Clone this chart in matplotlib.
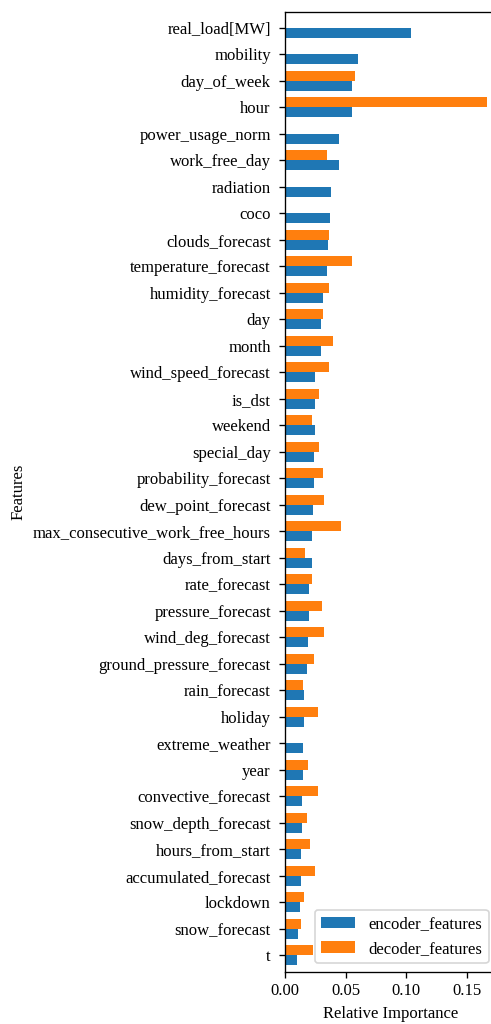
import numpy as np
import matplotlib
matplotlib.use('Agg')
import matplotlib.pyplot as plt

plt.rcParams['font.family'] = ['Liberation Serif', 'DejaVu Serif']
plt.rcParams['font.size'] = 10

features = ['real_load[MW]', 'mobility', 'day_of_week', 'hour', 'power_usage_norm',
            'work_free_day', 'radiation', 'coco', 'clouds_forecast',
            'temperature_forecast', 'humidity_forecast', 'day', 'month',
            'wind_speed_forecast', 'is_dst', 'weekend', 'special_day',
            'probability_forecast', 'dew_point_forecast',
            'max_consecutive_work_free_hours', 'days_from_start', 'rate_forecast',
            'pressure_forecast', 'wind_deg_forecast', 'ground_pressure_forecast',
            'rain_forecast', 'holiday', 'extreme_weather', 'year',
            'convective_forecast', 'snow_depth_forecast', 'hours_from_start',
            'accumulated_forecast', 'lockdown', 'snow_forecast', 't']

encoder = [0.104, 0.0603, 0.0554, 0.0554, 0.0446,
           0.0446, 0.038, 0.0372, 0.0355,
           0.0347, 0.0314, 0.0298, 0.0298,
           0.0248, 0.0248, 0.0248, 0.024,
           0.024, 0.0231,
           0.0223, 0.0223, 0.0198,
           0.0198, 0.019, 0.0182,
           0.0157, 0.0157, 0.0149, 0.0149,
           0.014, 0.014, 0.0132,
           0.0132, 0.0124, 0.0107, 0.0099]

decoder = [0.0, 0.0, 0.0579, 0.1663, 0.0,
           0.0347, 0.0, 0.0, 0.0364,
           0.0554, 0.0364, 0.0314, 0.0397,
           0.0364, 0.0281, 0.0223, 0.0281,
           0.0314, 0.0322,
           0.0463, 0.0165, 0.0223,
           0.0306, 0.0322, 0.024,
           0.0149, 0.0273, 0.0, 0.019,
           0.0273, 0.0182, 0.0207,
           0.0248, 0.0157, 0.0132, 0.0231]

n = len(features)
pos = np.arange(n)[::-1]
h = 0.38

# 492x1024 px at 120 dpi
fig = plt.figure(figsize=(4.1, 1024 / 120), dpi=120)
ax = fig.add_axes([0.5793, 0.0510, 0.4309, 0.9373])

ax.barh(pos - h / 2, encoder, height=h, color='tab:blue', label='encoder_features')
ax.barh(pos + h / 2, decoder, height=h, color='tab:orange', label='decoder_features')

ax.set_yticks(pos)
ax.set_yticklabels(features)
ax.tick_params(axis='y', pad=5)
ax.set_ylim(-0.62, n - 1 + 0.6)
ax.set_xticks([0.0, 0.05, 0.10, 0.15])
ax.set_xticklabels(['0.00', '0.05', '0.10', '0.15'])
ax.set_xlabel('Relative Importance')
ax.set_ylabel('Features')
ax.legend(loc='lower right')

fig.savefig('out.png', dpi=120)
